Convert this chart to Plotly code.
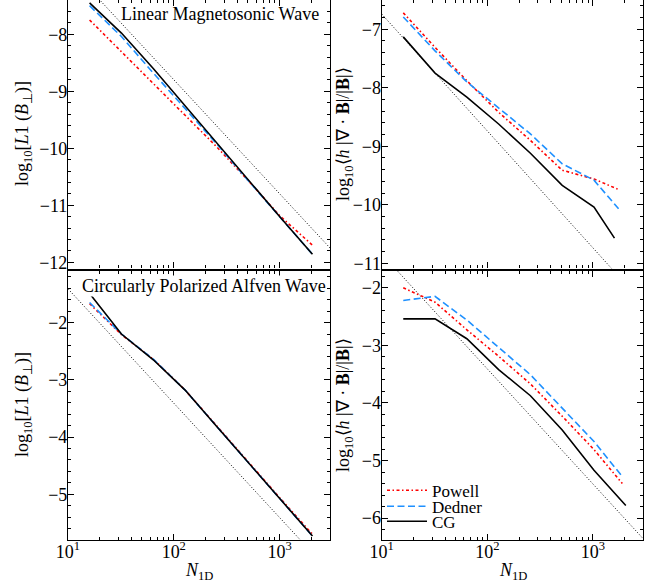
import numpy as np
import plotly.graph_objects as go
from plotly.subplots import make_subplots

# resolution
n_std = [16, 32, 64, 128, 256, 512, 1024, 2048]
n_tr_black = [16, 32, 64, 128, 256, 512, 1024, 1600]
n_tr_col = [16, 32, 64, 128, 256, 512, 1024, 1750]
n_br_col = [16, 32, 64, 128, 256, 512, 1024, 1900]

# top left: linear magnetosonic wave, L1 error
tl_powell = [-7.75, -8.31, -8.87, -9.42, -9.98, -10.58, -11.20, -11.70]
tl_dedner = [-7.50, -8.04, -8.68, -9.30, -9.93, -10.58, -11.22, -11.86]
tl_cg = [-7.45, -7.98, -8.60, -9.26, -9.92, -10.58, -11.22, -11.86]

# top right: linear magnetosonic wave, div B
tr_powell = [-6.72, -7.31, -7.88, -8.42, -8.90, -9.41, -9.56, -9.74]
tr_dedner = [-6.79, -7.37, -7.90, -8.34, -8.79, -9.30, -9.58, -10.07]
tr_cg = [-7.13, -7.75, -8.16, -8.62, -9.12, -9.67, -10.04, -10.57]

# bottom left: circularly polarized alfven wave, L1 error
bl_powell = [-1.67, -2.21, -2.64, -3.18, -3.81, -4.45, -5.08, -5.70]
bl_dedner = [-1.65, -2.20, -2.64, -3.18, -3.82, -4.46, -5.09, -5.73]
bl_cg = [-1.49, -2.20, -2.65, -3.18, -3.82, -4.46, -5.09, -5.73]

# bottom right: circularly polarized alfven wave, div B
br_powell = [-2.00, -2.25, -2.73, -3.19, -3.67, -4.23, -4.81, -5.40]
br_dedner = [-2.22, -2.15, -2.56, -3.03, -3.51, -4.09, -4.67, -5.28]
br_cg = [-2.54, -2.54, -2.885, -3.42, -3.875, -4.47, -5.17, -5.78]

# second order reference lines
ref_n = [10, 3000]
ref_tl = [-6.80, -11.75]
ref_tr = [-6.74, -11.69]
ref_bl = [-1.41, -6.36]
ref_br = [-1.41, -6.36]

FONT = "Liberation Serif"
RED = "#ff0000"
BLUE = "#1e90ff"

fig = make_subplots(rows=2, cols=2)

panels = [
    (1, 1, n_std, n_std, tl_powell, tl_dedner, n_std, tl_cg, ref_tl),
    (1, 2, n_tr_col, n_tr_col, tr_powell, tr_dedner, n_tr_black, tr_cg, ref_tr),
    (2, 1, n_std, n_std, bl_powell, bl_dedner, n_std, bl_cg, ref_bl),
    (2, 2, n_br_col, n_br_col, br_powell, br_dedner, n_std, br_cg, ref_br),
]

for r, c, xp, xd, yp, yd, xc, yc, yref in panels:
    leg = (r == 2 and c == 2)
    fig.add_trace(go.Scatter(x=ref_n, y=yref, mode="lines", showlegend=False,
                             line=dict(color="black", width=1, dash="1px,2px")), row=r, col=c)
    fig.add_trace(go.Scatter(x=xp, y=yp, mode="lines", name="Powell", showlegend=leg, legend="legend",
                             line=dict(color=RED, width=1.6, dash="3px,2.5px,1.5px,2.5px")), row=r, col=c)
    fig.add_trace(go.Scatter(x=xd, y=yd, mode="lines", name="Dedner", showlegend=leg, legend="legend2",
                             line=dict(color=BLUE, width=1.6, dash="7px,3.5px")), row=r, col=c)
    fig.add_trace(go.Scatter(x=xc, y=yc, mode="lines", name="CG", showlegend=leg, legend="legend3",
                             line=dict(color="black", width=1.6)), row=r, col=c)

minor_x = [m * 10 ** k for k in range(1, 4) for m in range(2, 10)]
xdom = {1: [68 / 656, 330 / 656], 2: [381.7 / 656, 643.3 / 656]}
ydom = {1: [1 - 268.5 / 583, 1.0], 2: [1 - 540 / 583, 1 - 270.5 / 583]}
yranges = {(1, 1): [-12.11, -7.40], (1, 2): [-11.09, -6.50],
           (2, 1): [-5.80, -1.09], (2, 2): [-6.38, -1.70]}

tickf = dict(family=FONT, size=18, color="black")
for r in (1, 2):
    for c in (1, 2):
        fig.update_xaxes(type="log", range=[1, np.log10(3000)], domain=xdom[c], automargin=False,
                         tickvals=[10, 100, 1000],
                         ticktext=["10<sup>1</sup>", "10<sup>2</sup>", "10<sup>3</sup>"],
                         showticklabels=(r == 2), ticks="inside", ticklen=6, tickwidth=1,
                         ticklabelstandoff=-5,
                         minor=dict(tickvals=minor_x, ticks="inside", ticklen=3, tickcolor="black"),
                         showline=True, linecolor="black", linewidth=1.2, mirror="ticks",
                         showgrid=False, zeroline=False, tickcolor="black",
                         tickfont=tickf, row=r, col=c)
        fig.update_yaxes(range=yranges[(r, c)], domain=ydom[r], dtick=1, automargin=False,
                         ticks="inside", ticklen=6, tickwidth=1, ticklabelstandoff=-4,
                         minor=dict(dtick=0.2, ticks="inside", ticklen=3, tickcolor="black"),
                         showline=True, linecolor="black", linewidth=1.2, mirror="ticks",
                         showgrid=False, zeroline=False, tickcolor="black",
                         tickfont=tickf, row=r, col=c)

lab = dict(family=FONT, size=18, color="black")
ylab_l = "log<sub>10</sub>[<i>L</i>1 (<i>B</i><sub>⊥</sub>)]"
ylab_r = "log<sub>10</sub>⟨<i>h</i> |∇ · <b>B</b>|/|<b>B</b>|⟩"
annots = [
    dict(text="Linear Magnetosonic Wave", x=321 / 656, y=1 - 14 / 583, xanchor="right"),
    dict(text="Circularly Polarized Alfven Wave", x=327 / 656, y=1 - 286 / 583, xanchor="right",
         bgcolor="white", borderpad=0),
    dict(text=ylab_l, x=23 / 656, y=1 - 134 / 583, textangle=-90),
    dict(text=ylab_l, x=23 / 656, y=1 - 405 / 583, textangle=-90),
    dict(text=ylab_r, x=344 / 656, y=1 - 134 / 583, textangle=-90),
    dict(text=ylab_r, x=344 / 656, y=1 - 405 / 583, textangle=-90),
    dict(text="<i>N</i><sub>1D</sub>", x=199 / 656, y=1 - 571 / 583),
    dict(text="<i>N</i><sub>1D</sub>", x=512.5 / 656, y=1 - 571 / 583),
]
for a in annots:
    a.setdefault("xanchor", "center")
    a.setdefault("yanchor", "middle")
    fig.add_annotation(xref="paper", yref="paper", showarrow=False, font=lab, **a)

legf = dict(family=FONT, size=17, color="black")
legs = {}
for key, ypix in (("legend", 490.7), ("legend2", 506.7), ("legend3", 521.7)):
    legs[key] = dict(x=382 / 656, y=1 - ypix / 583, xanchor="left", yanchor="middle",
                     bgcolor="rgba(0,0,0,0)", font=legf, borderwidth=0, itemwidth=40)

fig.update_layout(
    width=656, height=583,
    margin=dict(l=0, r=0, t=0, b=0),
    paper_bgcolor="white", plot_bgcolor="white",
    font=dict(family=FONT, color="black"),
    **legs,
)

fig.write_html("out.html", config={"displayModeBar": False},
               post_script="document.body.style.margin='0px';")
